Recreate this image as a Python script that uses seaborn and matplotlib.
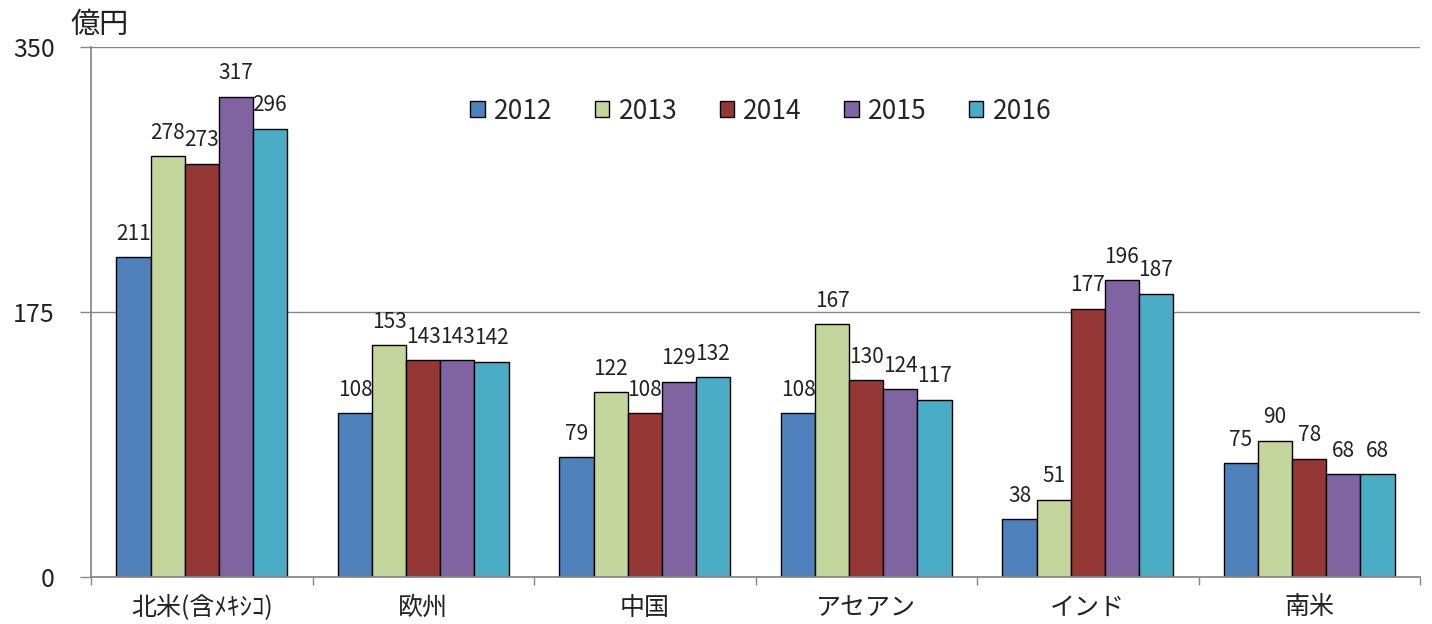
import matplotlib
matplotlib.use("Agg")
import matplotlib.pyplot as plt
import pandas as pd
import seaborn as sns

# data (unit: 億円)
regions = ["北米(含ﾒｷｼｺ)", "欧州", "中国", "アセアン", "インド", "南米"]
years = ["2012", "2013", "2014", "2015", "2016"]
v2012 = [211, 108, 79, 108, 38, 75]
v2013 = [278, 153, 122, 167, 51, 90]
v2014 = [273, 143, 108, 130, 177, 78]
v2015 = [317, 143, 129, 124, 196, 68]
v2016 = [296, 142, 132, 117, 187, 68]
colors = ["#4F81BD", "#C3D69B", "#953735", "#8064A2", "#4BACC6"]

sns.set_theme(style="white")
plt.rcParams["font.family"] = ["Noto Sans CJK JP", "DejaVu Sans"]

rows = []
for year, vals in zip(years, [v2012, v2013, v2014, v2015, v2016]):
    for region, v in zip(regions, vals):
        rows.append({"region": region, "year": year, "value": v})
df = pd.DataFrame(rows)

fig = plt.figure(figsize=(14.32, 6.24), dpi=100)
ax = fig.add_axes([91 / 1432, 47 / 624, 1329 / 1432, 530 / 624])

sns.barplot(data=df, x="region", y="value", hue="year", order=regions,
            hue_order=years, palette=colors, width=0.77, gap=0,
            edgecolor="black", linewidth=1, ax=ax, saturation=1)

for cont in ax.containers:
    ax.bar_label(cont, padding=9, fontsize=15, color="#222222")

grey = "#868686"
ax.set_ylim(0, 350)
ax.set_xlim(-0.5, 5.5)
ax.set_yticks([0, 175, 350])
ax.yaxis.grid(True, color=grey, linewidth=1)
ax.set_axisbelow(True)
for s in ["top", "right"]:
    ax.spines[s].set_visible(False)
ax.spines["left"].set_color(grey)
ax.spines["bottom"].set_color(grey)
ax.tick_params(axis="y", length=8, color=grey, width=1, pad=18,
               labelsize=18, labelcolor="#222222", left=True)
ax.set_xticks(range(len(regions)))
ax.set_xticklabels(regions)
ax.set_xticks([i - 0.5 for i in range(len(regions) + 1)], minor=True)
ax.tick_params(axis="x", which="major", length=0, pad=13, labelsize=18,
               labelcolor="#222222")
ax.tick_params(axis="x", which="minor", length=6, color=grey, width=1,
               bottom=True)
ax.set_xlabel("")
ax.set_ylabel("")

handles, labels = ax.get_legend_handles_labels()
ax.legend(handles, labels, ncol=5, loc="center", bbox_to_anchor=(0.504, 0.879),
          frameon=False, handlelength=0.55, handleheight=0.55,
          handletextpad=0.35, columnspacing=1.6, fontsize=19)

fig.text(70 / 1432, 1 - 25 / 624, "億円", va="center", ha="left",
         fontsize=21, color="#222222")

fig.savefig("out.png", dpi=100)
